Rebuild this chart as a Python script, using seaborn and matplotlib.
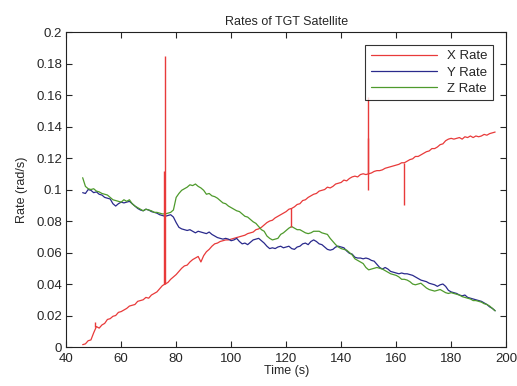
import numpy as np
import pandas as pd
import matplotlib
matplotlib.use("Agg")
import matplotlib.pyplot as plt
import seaborn as sns

# ---- data (one sample per second) ----
time_s = list(range(46, 197))

x_rate = [0.0015, 0.002, 0.004, 0.0045, 0.009, 0.013, 0.012, 0.014, 0.015, 0.0175,
          0.018, 0.0195, 0.020, 0.022, 0.0225, 0.0235, 0.0245, 0.026, 0.0265, 0.027,
          0.029, 0.0295, 0.030, 0.0315, 0.031, 0.033, 0.034, 0.035, 0.037, 0.039,
          0.040, 0.041, 0.043, 0.0445, 0.046, 0.048, 0.050, 0.0515, 0.052, 0.054,
          0.0555, 0.0565, 0.0575, 0.054, 0.058, 0.0605, 0.062, 0.064, 0.0655, 0.066,
          0.067, 0.0675, 0.068, 0.068, 0.0685, 0.069, 0.0695, 0.070, 0.0705, 0.071,
          0.072, 0.0725, 0.073, 0.0745, 0.075, 0.076, 0.0775, 0.079, 0.080, 0.0805,
          0.082, 0.083, 0.084, 0.085, 0.086, 0.0875, 0.088, 0.089, 0.0905, 0.091,
          0.093, 0.0935, 0.095, 0.096, 0.097, 0.0975, 0.099, 0.0995, 0.100, 0.1015,
          0.101, 0.102, 0.1035, 0.104, 0.1045, 0.106, 0.1055, 0.107, 0.108, 0.1085,
          0.108, 0.1095, 0.110, 0.1095, 0.110, 0.1105, 0.1115, 0.112, 0.112, 0.1125,
          0.1135, 0.114, 0.1145, 0.115, 0.1155, 0.116, 0.117, 0.117, 0.118, 0.119,
          0.1195, 0.121, 0.121, 0.122, 0.123, 0.124, 0.1245, 0.126, 0.126, 0.127,
          0.1285, 0.129, 0.131, 0.132, 0.1325, 0.132, 0.1325, 0.133, 0.132, 0.1335,
          0.133, 0.134, 0.133, 0.134, 0.1335, 0.134, 0.135, 0.1345, 0.1355, 0.136,
          0.1365]

y_rate = [0.098, 0.0975, 0.100, 0.0995, 0.098, 0.0985, 0.097, 0.0965, 0.095, 0.0945,
          0.094, 0.091, 0.0895, 0.091, 0.092, 0.0915, 0.092, 0.0925, 0.091, 0.0895,
          0.088, 0.087, 0.0865, 0.0875, 0.087, 0.086, 0.0855, 0.085, 0.084, 0.0835,
          0.083, 0.0835, 0.084, 0.0825, 0.079, 0.076, 0.075, 0.0745, 0.074, 0.0745,
          0.0735, 0.0725, 0.0735, 0.073, 0.0725, 0.072, 0.073, 0.0715, 0.0705, 0.0695,
          0.069, 0.0685, 0.069, 0.0685, 0.0675, 0.068, 0.069, 0.067, 0.0655, 0.066,
          0.065, 0.0665, 0.068, 0.0685, 0.069, 0.0675, 0.066, 0.064, 0.0625, 0.063,
          0.0625, 0.0635, 0.064, 0.063, 0.0635, 0.064, 0.0625, 0.062, 0.0635, 0.064,
          0.0655, 0.066, 0.065, 0.067, 0.068, 0.067, 0.0655, 0.065, 0.0635, 0.062,
          0.0615, 0.062, 0.0635, 0.064, 0.0635, 0.063, 0.061, 0.0595, 0.059, 0.057,
          0.0565, 0.0565, 0.056, 0.0565, 0.056, 0.055, 0.0545, 0.0525, 0.0505, 0.0495,
          0.0505, 0.0495, 0.048, 0.0475, 0.047, 0.0465, 0.047, 0.0465, 0.0465, 0.046,
          0.0455, 0.0445, 0.0435, 0.0425, 0.042, 0.0415, 0.0405, 0.040, 0.0395, 0.0385,
          0.0395, 0.040, 0.0385, 0.036, 0.035, 0.0345, 0.034, 0.033, 0.0325, 0.033,
          0.0315, 0.031, 0.0305, 0.030, 0.0295, 0.029, 0.028, 0.027, 0.0255, 0.0245,
          0.023]

z_rate = [0.1075, 0.102, 0.1005, 0.100, 0.1005, 0.099, 0.0985, 0.0975, 0.097, 0.0965,
          0.095, 0.0935, 0.093, 0.0925, 0.092, 0.0935, 0.0925, 0.0935, 0.091, 0.0895,
          0.0885, 0.0875, 0.0865, 0.0875, 0.087, 0.0865, 0.0855, 0.0855, 0.085, 0.0845,
          0.0845, 0.085, 0.0855, 0.087, 0.095, 0.0975, 0.0995, 0.1005, 0.1015, 0.103,
          0.1025, 0.1035, 0.102, 0.101, 0.0995, 0.097, 0.0975, 0.096, 0.0955, 0.0945,
          0.093, 0.0915, 0.091, 0.0895, 0.0885, 0.0875, 0.0865, 0.086, 0.0845, 0.083,
          0.0825, 0.081, 0.0795, 0.0785, 0.0765, 0.0745, 0.0735, 0.0705, 0.069, 0.068,
          0.0685, 0.069, 0.0715, 0.0725, 0.074, 0.0755, 0.0765, 0.0755, 0.0745, 0.0745,
          0.0735, 0.0725, 0.072, 0.0725, 0.0735, 0.0735, 0.0735, 0.0725, 0.072, 0.0715,
          0.069, 0.067, 0.065, 0.0635, 0.0625, 0.062, 0.0615, 0.060, 0.0585, 0.056,
          0.055, 0.054, 0.053, 0.0505, 0.049, 0.0495, 0.050, 0.0505, 0.050, 0.0495,
          0.0485, 0.0475, 0.0465, 0.046, 0.0455, 0.0445, 0.043, 0.043, 0.0425, 0.0415,
          0.040, 0.0395, 0.040, 0.0405, 0.039, 0.0375, 0.0365, 0.036, 0.0355, 0.036,
          0.0365, 0.0355, 0.0345, 0.034, 0.0345, 0.034, 0.0335, 0.033, 0.032, 0.0315,
          0.031, 0.0305, 0.0295, 0.0295, 0.029, 0.0285, 0.0275, 0.027, 0.026, 0.0245,
          0.023]

# short glitches in the X rate signal
spike_time = [50.6, 75.6, 75.8, 121.8, 149.6, 149.8, 162.7]
spike_low = [0.013, 0.040, 0.040, 0.076, 0.110, 0.100, 0.090]
spike_high = [0.016, 0.112, 0.185, 0.088, 0.133, 0.159, 0.117]

assert len(time_s) == len(x_rate) == len(y_rate) == len(z_rate)

df = pd.DataFrame({"Time": time_s, "X": x_rate, "Y": y_rate, "Z": z_rate})

red = "#e83a3a"
blue = "#2a2a8c"
green = "#4e9a2c"

sns.set_style("ticks")
plt.rcParams["font.family"] = ["Liberation Sans", "DejaVu Sans"]

fig = plt.figure(figsize=(5.17, 3.86), dpi=100)
ax = fig.add_axes([0.128, 0.101, 0.851, 0.816])

sns.lineplot(data=df, x="Time", y="X", color=red, lw=0.9, label="X Rate", ax=ax)
sns.lineplot(data=df, x="Time", y="Y", color=blue, lw=0.9, label="Y Rate", ax=ax)
sns.lineplot(data=df, x="Time", y="Z", color=green, lw=0.9, label="Z Rate", ax=ax)
ax.vlines(spike_time, spike_low, spike_high, color=red, lw=1.0)

ax.set_xlim(40, 200)
ax.set_ylim(0, 0.2)
ax.set_xticks(range(40, 201, 20))
ax.set_yticks([0, 0.02, 0.04, 0.06, 0.08, 0.1, 0.12, 0.14, 0.16, 0.18, 0.2])
ax.set_yticklabels(["0", "0.02", "0.04", "0.06", "0.08", "0.1", "0.12",
                    "0.14", "0.16", "0.18", "0.2"])
ax.tick_params(direction="in", top=True, right=True, length=4, width=0.8,
               labelsize=9.5)
ax.tick_params(axis="x", pad=4)
ax.tick_params(axis="y", pad=3)
for sp in ax.spines.values():
    sp.set_linewidth(0.8)
    sp.set_color("#222222")

ax.set_title("Rates of TGT Satellite", fontsize=9, pad=5)
ax.set_xlabel("Time (s)", fontsize=9, labelpad=0)
ax.set_ylabel("Rate (rad/s)", fontsize=9, labelpad=6)

leg = ax.legend(loc="upper right", fontsize=9.5, handlelength=5.0, frameon=True,
                fancybox=False, borderpad=0.4, labelspacing=0.3,
                bbox_to_anchor=(0.985, 0.98))
leg.get_frame().set_edgecolor("black")
leg.get_frame().set_linewidth(0.8)

fig.savefig("out.png", dpi=100)
